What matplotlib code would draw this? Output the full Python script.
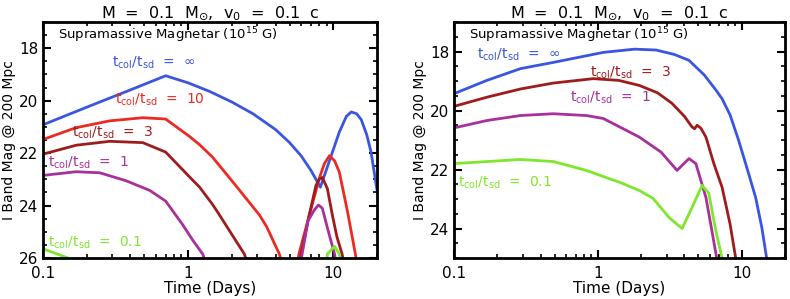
import numpy as np
import matplotlib.pyplot as plt
from matplotlib.ticker import FixedLocator, MultipleLocator, LogLocator, NullFormatter

plt.rcParams['font.family'] = ['DejaVu Sans']
plt.rcParams['mathtext.default'] = 'regular'

nan = np.nan

# ---- left panel ----
L_inf_t = [0.1, 0.2, 0.4, 0.7, 1.0, 1.41, 2.0, 2.8, 4.0, 5.0, 6.0, 7.0, 8.15,
           9.4, 11.0, 12.3, 13.3, 14.5, 15.6, 17.0, 18.2, 20.0]
L_inf_m = [20.92, 20.25, 19.59, 19.05, 19.32, 19.65, 20.05, 20.5, 21.1, 21.6, 22.1, 22.65, 23.3,
           22.3, 21.2, 20.6, 20.43, 20.5, 20.73, 21.3, 21.96, 23.4]

L_10_t = [0.1, 0.169, 0.288, 0.487, 0.7, 1.02, 1.2, 1.47, 2.02, 3.1, 3.47, 4.25, 4.5,
          nan, 5.6, 5.8, 6.84, 8.0, 8.67, 9.4, 10.2, 11.0, 12.5, 14.2, 14.6]
L_10_m = [21.48, 21.03, 20.77, 20.65, 20.7, 21.36, 21.68, 22.15, 23.08, 24.36, 24.8, 25.85, 26.3,
          nan, 26.3, 25.85, 24.36, 22.97, 22.41, 22.1, 22.29, 22.72, 24.2, 25.85, 26.3]

L_3_t = [0.1, 0.169, 0.288, 0.487, 0.7, 1.02, 1.2, 1.47, 1.64, 2.0, 2.44, 2.6,
         nan, 5.85, 6.0, 6.8, 7.6, 8.0, 8.4, 9.1, 9.85, 10.6, 11.5, 11.9]
L_3_m = [22.04, 21.7, 21.55, 21.6, 21.96, 22.9, 23.3, 23.95, 24.35, 25.1, 25.85, 26.3,
         nan, 26.3, 25.85, 24.4, 23.23, 23.0, 22.93, 23.35, 24.36, 25.2, 25.85, 26.3]

L_1_t = [0.1, 0.169, 0.246, 0.372, 0.543, 0.7, 0.917, 1.07, 1.26, 1.35,
         nan, 5.9, 6.1, 6.7, 7.4, 7.9, 8.4, 9.1, 10.2, 10.5]
L_1_m = [22.85, 22.71, 22.75, 23.05, 23.42, 23.83, 24.73, 25.3, 25.85, 26.3,
         nan, 26.3, 25.85, 24.58, 24.17, 23.98, 24.1, 24.84, 25.85, 26.3]

L_01_t = [0.1, 0.149, 0.16, nan, 9.0, 9.1, 10.2, 11.0, 11.2]
L_01_m = [25.65, 26.0, 26.1, nan, 26.1, 25.85, 25.55, 25.85, 26.1]

# ---- right panel ----
R_inf_t = [0.1, 0.169, 0.29, 0.49, 1.09, 1.8, 2.54, 3.4, 4.3, 5.5, 6.6, 7.3, 8.3, 9.5, 11.0, 12.5, 13.8, 14.9, 15.5]
R_inf_m = [19.43, 18.98, 18.58, 18.37, 18.03, 17.92, 17.95, 18.1, 18.3, 18.8, 19.3, 19.6, 20.15, 21.0, 22.03,
           22.95, 23.97, 25.0, 25.3]

R_3_t = [0.1, 0.169, 0.29, 0.49, 0.93, 1.4, 1.94, 2.6, 3.28, 4.0, 4.5, 4.7, 4.9, 5.2, 5.64, 6.4, 7.3, 8.3, 9.08, 9.3]
R_3_m = [19.86, 19.55, 19.27, 19.07, 18.92, 18.98, 19.15, 19.4, 19.76, 20.2, 20.55, 20.62, 20.5, 20.6, 20.9,
         21.8, 22.6, 23.85, 25.0, 25.3]

R_1_t = [0.1, 0.169, 0.29, 0.49, 0.83, 1.09, 1.94, 2.75, 3.55, 4.3, 4.8, 5.64, 6.2, 6.7, 6.9]
R_1_m = [20.59, 20.34, 20.17, 20.11, 20.17, 20.27, 20.9, 21.41, 22.03, 21.63, 21.8, 22.95, 24.07, 25.0, 25.3]

R_01_t = [0.1, 0.29, 0.49, 0.83, 1.43, 1.94, 2.42, 3.13, 3.85, 4.5, 5.3, 5.9, 6.6, 7.3, 7.5]
R_01_m = [21.8, 21.66, 21.73, 22.03, 22.44, 22.71, 22.98, 23.63, 24.0, 23.3, 22.54, 22.8, 24.07, 25.0, 25.3]

C_INF = '#3a55e0'
C_10 = '#ec2a22'
C_3 = '#9e1c1c'
C_1 = '#a8309a'
C_01 = '#7ee62c'

lab = r't$_{col}$/t$_{sd}$  =  '

fig = plt.figure(figsize=(7.9, 2.99), dpi=100)
axL = fig.add_axes([0.0544, 0.1371, 0.4228, 0.7893])
axR = fig.add_axes([0.5747, 0.1371, 0.419, 0.7893])

lw = 2.0
axL.plot(L_inf_t, L_inf_m, color=C_INF, lw=lw)
axL.plot(L_10_t, L_10_m, color=C_10, lw=lw)
axL.plot(L_3_t, L_3_m, color=C_3, lw=lw)
axL.plot(L_1_t, L_1_m, color=C_1, lw=lw)
axL.plot(L_01_t, L_01_m, color=C_01, lw=lw)

axR.plot(R_inf_t, R_inf_m, color=C_INF, lw=lw)
axR.plot(R_3_t, R_3_m, color=C_3, lw=lw)
axR.plot(R_1_t, R_1_m, color=C_1, lw=lw)
axR.plot(R_01_t, R_01_m, color=C_01, lw=lw)

for ax, ylim in ((axL, (26, 17)), (axR, (25, 17))):
    ax.set_xscale('log')
    ax.set_xlim(0.1, 20)
    ax.set_ylim(*ylim)
    ax.xaxis.set_major_locator(FixedLocator([0.1, 1, 10]))
    ax.set_xticklabels(['0.1', '1', '10'])
    ax.xaxis.set_minor_locator(LogLocator(base=10, subs=np.arange(2, 10)))
    ax.xaxis.set_minor_formatter(NullFormatter())
    ax.yaxis.set_major_locator(MultipleLocator(2))
    ax.yaxis.set_minor_locator(MultipleLocator(0.5))
    ax.tick_params(which='both', direction='in', top=True, right=True, labelsize=11, colors='black')
    ax.tick_params(which='major', length=6, width=1.5)
    ax.tick_params(axis='x', which='major', pad=6)
    ax.tick_params(which='minor', length=3, width=1.2)
    for s in ax.spines.values():
        s.set_linewidth(2)
    ax.set_xlabel('Time (Days)', fontsize=11, labelpad=0)
    ax.set_ylabel('I Band Mag @ 200 Mpc', fontsize=10, labelpad=2)
    ax.set_title(r'M  =  0.1  M$_{\odot}$,  v$_0$  =  0.1  c', fontsize=11.5, pad=3)
    ax.text(0.044, 0.945, r'Supramassive Magnetar (10$^{15}$ G)', transform=ax.transAxes,
            fontsize=9.5, va='center', ha='left')

axL.text(0.207, 0.826, lab + r'$\infty$', color=C_INF, transform=axL.transAxes, fontsize=10, va='center')
axL.text(0.216, 0.669, lab + '10', color=C_10, transform=axL.transAxes, fontsize=10, va='center')
axL.text(0.087, 0.530, lab + '3', color=C_3, transform=axL.transAxes, fontsize=10, va='center')
axL.text(0.015, 0.403, lab + '1', color=C_1, transform=axL.transAxes, fontsize=10, va='center')
axL.text(0.015, 0.064, lab + '0.1', color=C_01, transform=axL.transAxes, fontsize=10, va='center')

axR.text(0.069, 0.860, lab + r'$\infty$', color=C_INF, transform=axR.transAxes, fontsize=10, va='center')
axR.text(0.411, 0.784, lab + '3', color=C_3, transform=axR.transAxes, fontsize=10, va='center')
axR.text(0.350, 0.678, lab + '1', color=C_1, transform=axR.transAxes, fontsize=10, va='center')
axR.text(0.012, 0.318, lab + '0.1', color=C_01, transform=axR.transAxes, fontsize=10, va='center')

fig.savefig('out.png', dpi=100)
